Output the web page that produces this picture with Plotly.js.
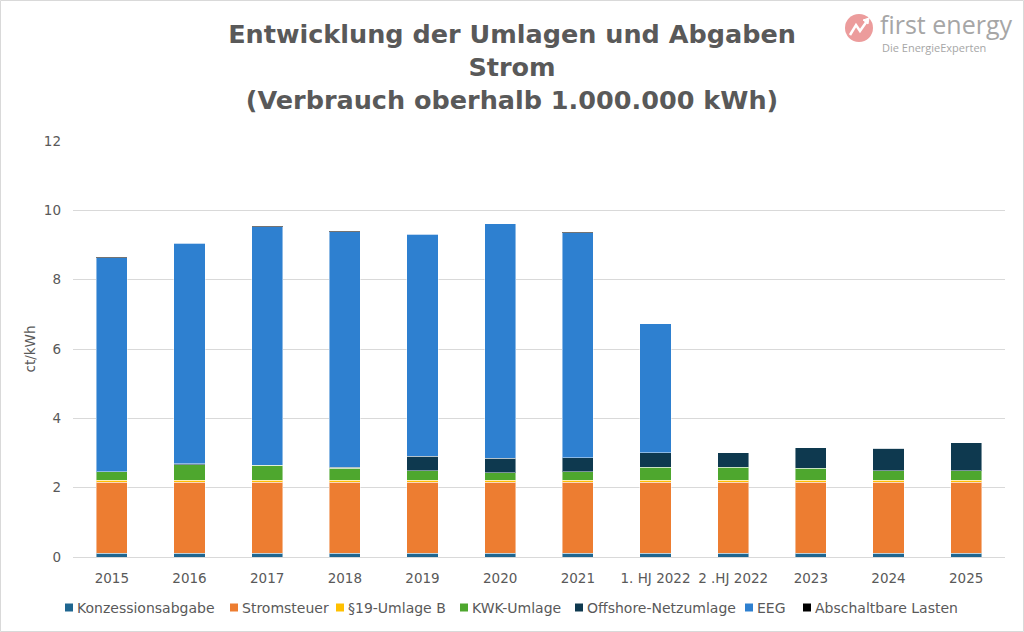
<!DOCTYPE html>
<html>
<head>
<meta charset="utf-8">
<script src="https://cdn.plot.ly/plotly-3.0.1.min.js"></script>
<style>html,body{margin:0;padding:0;background:#fff;}#chart{width:1024px;height:632px;}</style>
</head>
<body>
<div id="chart"></div>
<script>
const categories = ["2015","2016","2017","2018","2019","2020","2021","1. HJ 2022","2 .HJ 2022","2023","2024","2025"];
const konzessionsabgabe = [0.11,0.11,0.11,0.11,0.11,0.11,0.11,0.11,0.11,0.11,0.11,0.11];
const stromsteuer = [2.05,2.05,2.05,2.05,2.05,2.05,2.05,2.05,2.05,2.05,2.05,2.05];
const umlage19B = [0.05,0.05,0.05,0.05,0.05,0.05,0.05,0.05,0.05,0.05,0.05,0.05];
const kwkUmlage = [0.254,0.445,0.438,0.345,0.280,0.226,0.254,0.378,0.378,0.357,0.275,0.277];
const offshore = [0,0.040,0,0.037,0.416,0.416,0.395,0.419,0.419,0.591,0.656,0.816];
const eeg = [6.17,6.354,6.88,6.792,6.405,6.756,6.5,3.723,0,0,0,0];
const abschaltbar = [0.006,0,0.006,0.011,0.005,0.007,0.009,0.003,0,0,0,0];

const seriesNames = ["Konzessionsabgabe","Stromsteuer","§19-Umlage B","KWK-Umlage","Offshore-Netzumlage","EEG","Abschaltbare Lasten"];
const seriesData = [konzessionsabgabe, stromsteuer, umlage19B, kwkUmlage, offshore, eeg, abschaltbar];
const seriesColors = ["#1F6690","#ED7D31","#FFC000","#4EA72E","#0E394F","#2E80D0","#000000"];

const traces = seriesNames.map((n,i)=>({
  type:"bar", name:n, x:categories, y:seriesData[i],
  marker:{color:seriesColors[i], line:{color:"rgba(255,255,255,0.45)", width:1}},
  hoverinfo:"name+y", showlegend:false
}));

// layout geometry (pixels)
const W = 1024, H = 632, ML = 73, MR = 19, MT = 141, MB = 75;
const PW = W - ML - MR, PH = H - MT - MB;
const px = x => (x - ML) / PW;
const py = y => (H - MB - y) / PH;

const font = "'DejaVu Sans', sans-serif";
const grey = "#595959";

// custom legend in reference style (small square + text)
const legendX = [65, 230, 336, 460, 575, 745, 803];
const legendY = 607.5;
const shapes = [
  {type:"rect", xref:"paper", yref:"paper", x0:px(0.5), x1:px(W-0.5), y0:py(H-0.5), y1:py(0.5),
   line:{color:"#D9D9D9", width:1}, fillcolor:"rgba(0,0,0,0)"},
  {type:"circle", xref:"paper", yref:"paper", x0:px(845), x1:px(873), y0:py(42), y1:py(14),
   line:{width:0}, fillcolor:"#EC9C9C"},
  {type:"path", xref:"paper", yref:"paper",
   path:`M ${px(850)} ${py(35)} L ${px(856)} ${py(25)} L ${px(860)} ${py(31)} L ${px(867)} ${py(21)}`,
   line:{color:"#ffffff", width:2.5}},
  {type:"path", xref:"paper", yref:"paper",
   path:`M ${px(869)} ${py(18)} L ${px(863)} ${py(20)} L ${px(868)} ${py(24)} Z`,
   line:{color:"#ffffff", width:1}, fillcolor:"#ffffff"}
];
const annotations = [
  {text:"first energy", xref:"paper", yref:"paper", x:px(878), y:py(24), xanchor:"left", yanchor:"middle",
   showarrow:false, font:{family:"'Open Sans', sans-serif", size:25, color:"#A6A6A6"}},
  {text:"Die EnergieExperten", xref:"paper", yref:"paper", x:px(880), y:py(47.5), xanchor:"left", yanchor:"middle",
   showarrow:false, font:{family:"'Open Sans', sans-serif", size:11, color:"#A6A6A6"}}
];
seriesNames.forEach((n,i)=>{
  shapes.push({type:"rect", xref:"paper", yref:"paper",
    x0:px(legendX[i]), x1:px(legendX[i]+8), y0:py(legendY+4), y1:py(legendY-4),
    line:{width:0}, fillcolor:seriesColors[i]});
  annotations.push({text:n, xref:"paper", yref:"paper", x:px(legendX[i]+10), y:py(legendY),
    xanchor:"left", yanchor:"middle", showarrow:false,
    font:{family:font, size:14, color:grey}});
});

const layout = {
  width:W, height:H,
  barmode:"stack", bargap:0.6,
  paper_bgcolor:"#fff", plot_bgcolor:"#fff",
  margin:{l:ML, r:MR, t:MT, b:MB},
  font:{family:font, color:grey, size:14},
  showlegend:false,
  title:{text:"<b>Entwicklung der Umlagen und Abgaben<br>Strom<br>(Verbrauch oberhalb 1.000.000 kWh)</b>",
         font:{family:font, size:25.5, color:grey}, x:0.5, xanchor:"center",
         yref:"container", y:1 - 43/H, yanchor:"middle"},
  xaxis:{type:"category", showgrid:false, showline:true, linecolor:"#D9D9D9", linewidth:1,
         tickfont:{family:font, size:13.5, color:grey}, ticks:"", ticklabelstandoff:9, automargin:false},
  yaxis:{range:[0,12], dtick:2, showgrid:true, gridcolor:"#D9D9D9", gridwidth:1, zeroline:false,
         tickfont:{family:font, size:13.5, color:grey}, ticks:"", ticklabelstandoff:11, automargin:false,
         title:{text:"ct/kWh", font:{family:font, size:13.5, color:grey}, standoff:5}},
  shapes:shapes,
  annotations:annotations
};

Plotly.newPlot("chart", traces, layout, {displayModeBar:false, staticPlot:true});
</script>
</body>
</html>
